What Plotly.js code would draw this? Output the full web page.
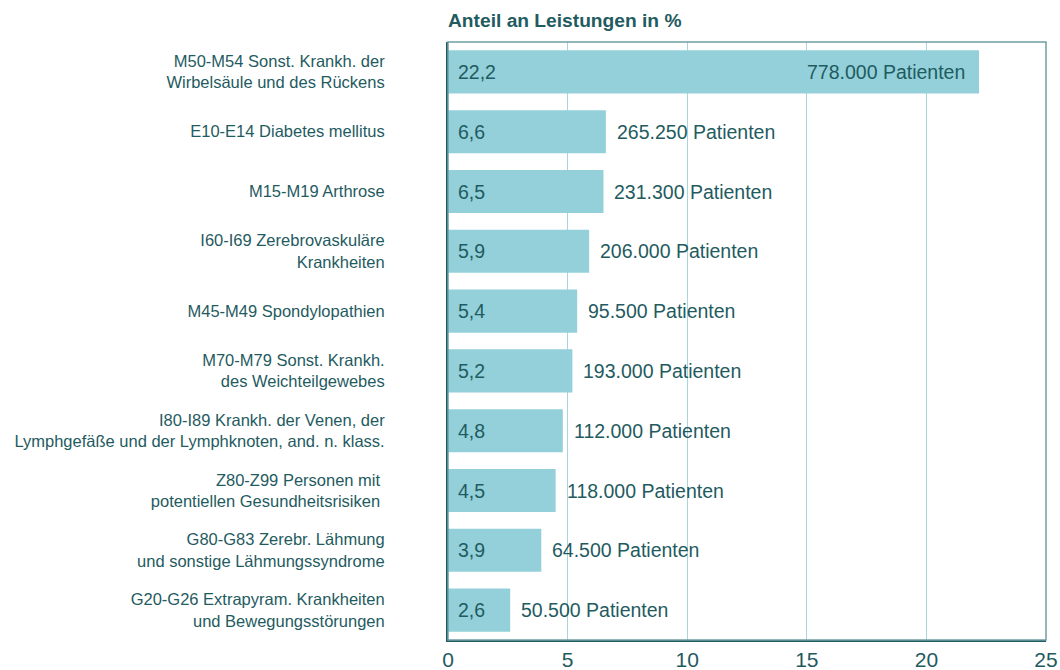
<!DOCTYPE html>
<html>
<head>
<meta charset="utf-8">
<script src="https://cdn.plot.ly/plotly-3.0.1.min.js"></script>
<style>
  html, body { margin: 0; padding: 0; background: #ffffff; }
  #chart { width: 1060px; height: 670px; }
</style>
</head>
<body>
<div id="chart"></div>
<script>
const categories = [
  "M50-M54 Sonst. Krankh. der<br>Wirbelsäule und des Rückens",
  "E10-E14 Diabetes mellitus",
  "M15-M19 Arthrose",
  "I60-I69 Zerebrovaskuläre<br>Krankheiten",
  "M45-M49 Spondylopathien",
  "M70-M79 Sonst. Krankh.<br>des Weichteilgewebes",
  "I80-I89 Krankh. der Venen, der<br>Lymphgefäße und der Lymphknoten, and. n. klass.",
  "Z80-Z99 Personen mit <br>potentiellen Gesundheitsrisiken ",
  "G80-G83 Zerebr. Lähmung<br>und sonstige Lähmungssyndrome",
  "G20-G26 Extrapyram. Krankheiten<br>und Bewegungsstörungen"
];
const shares = [22.2, 6.6, 6.5, 5.9, 5.4, 5.2, 4.8, 4.5, 3.9, 2.6];
const shareLabels = ["22,2", "6,6", "6,5", "5,9", "5,4", "5,2", "4,8", "4,5", "3,9", "2,6"];
const patientLabels = [
  "778.000 Patienten", "265.250 Patienten", "231.300 Patienten", "206.000 Patienten",
  "95.500 Patienten", "193.000 Patienten", "112.000 Patienten", "118.000 Patienten",
  "64.500 Patienten", "50.500 Patienten"
];
const xTicks = [0, 5, 10, 15, 20, 25];
const chartTitle = "Anteil an Leistungen in %";

const dark = "#1f5b5f";
const barColor = "#93d0da";
const gridColor = "#a9d6de";
const fontFamily = '"Liberation Sans", Arial, Helvetica, sans-serif';

const annotations = [];
categories.forEach((c, i) => {
  annotations.push({
    x: 0, y: c, xref: "x", yref: "y",
    text: shareLabels[i], showarrow: false,
    xanchor: "left", yanchor: "middle", xshift: 8,
    font: { family: fontFamily, size: 19.5, color: dark }
  });
  const inside = shares[i] > 15;
  annotations.push({
    x: shares[i], y: c, xref: "x", yref: "y",
    text: patientLabels[i], showarrow: false,
    xanchor: inside ? "right" : "left", yanchor: "middle",
    xshift: inside ? -12 : 9,
    font: { family: fontFamily, size: 19.5, color: dark }
  });
});

const data = [{
  type: "bar",
  orientation: "h",
  x: shares,
  y: categories,
  width: 0.72,
  marker: { color: barColor, line: { width: 0 } },
  hoverinfo: "none"
}];

const layout = {
  width: 1060,
  height: 670,
  margin: { l: 448, r: 14, t: 42, b: 30, pad: 0 },
  paper_bgcolor: "#ffffff",
  plot_bgcolor: "#ffffff",
  showlegend: false,
  font: { family: fontFamily, color: dark },
  title: {
    text: "<b>" + chartTitle + "</b>",
    x: 448 / 1060, xref: "container", xanchor: "left",
    y: 1 - 20 / 670, yref: "container", yanchor: "middle",
    font: { family: fontFamily, size: 19.2, color: dark }
  },
  xaxis: {
    range: [0, 25],
    tickvals: xTicks,
    ticktext: xTicks.map(String),
    showgrid: true,
    gridcolor: gridColor,
    gridwidth: 1,
    zeroline: false,
    showline: true,
    linecolor: dark,
    linewidth: 2,
    ticks: "",
    tickfont: { family: fontFamily, size: 21, color: dark },
    ticklabelstandoff: 0,
    fixedrange: true
  },
  yaxis: {
    type: "category",
    categoryorder: "array",
    categoryarray: categories,
    autorange: "reversed",
    showgrid: false,
    zeroline: false,
    showline: true,
    linecolor: dark,
    linewidth: 2,
    ticks: "",
    ticklabelstandoff: 58,
    tickfont: { family: fontFamily, size: 16.5, color: dark },
    fixedrange: true
  },
  shapes: [{
    type: "rect", xref: "paper", yref: "paper",
    x0: 0, x1: 1, y0: 0, y1: 1,
    line: { color: "#6f9fa4", width: 1.5 },
    fillcolor: "rgba(0,0,0,0)",
    layer: "above"
  }],
  annotations: annotations,
  bargap: 0.28
};

Plotly.newPlot("chart", data, layout, { displayModeBar: false, staticPlot: true });
</script>
</body>
</html>
